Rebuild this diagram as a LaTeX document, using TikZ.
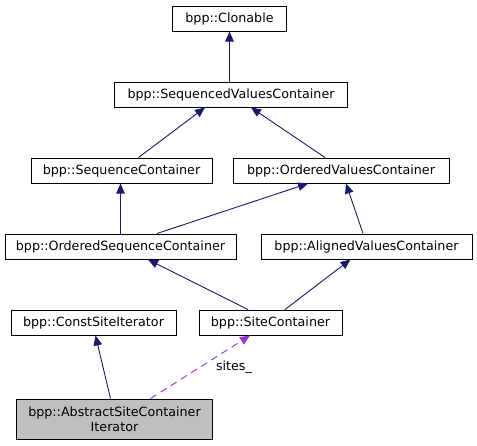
\documentclass[tikz,border=0pt]{standalone}
\usepackage{fontspec}
\setmainfont{DejaVu Sans}
\usetikzlibrary{arrows.meta}
\definecolor{EdgeBlue}{RGB}{25, 25, 112}
\definecolor{RefPurple}{RGB}{154, 50, 205}
\definecolor{BoxGray}{RGB}{191, 191, 191}

\begin{document}
\begin{tikzpicture}[
                x=1pt, y=-1pt,
                cls/.style={draw, line width=1pt, fill=white, inner sep=0pt, minimum height=25pt, font=\fontsize{12.7}{15}\selectfont, align=center},
                inherit/.style={-{Triangle[length=10pt, width=8.5pt]}, line width=0.9pt, EdgeBlue},
                uses/.style={-{Triangle[length=10pt, width=8.5pt]}, line width=0.9pt, dash pattern=on 7pt off 5pt, RefPurple}
            ]
                \useasboundingbox (0, 0) rectangle (477, 445);

                % Classes
                \node[cls, minimum width=114pt] (clonable) at (229.5, 18.5) {bpp::Clonable};
                \node[cls, minimum width=233pt] (seqvals) at (231, 94.5) {bpp::SequencedValuesContainer};
                \node[cls, minimum width=181pt] (seqcont) at (121.5, 170.5) {bpp::SequenceContainer};
                \node[cls, minimum width=216pt] (ordvals) at (341, 170.5) {bpp::OrderedValuesContainer};
                \node[cls, minimum width=231pt] (ordseq) at (120.5, 246.5) {bpp::OrderedSequenceContainer};
                \node[cls, minimum width=211pt] (alivals) at (366.5, 246.5) {bpp::AlignedValuesContainer};
                \node[cls, minimum width=165pt] (constiter) at (93.5, 322.5) {bpp::ConstSiteIterator};
                \node[cls, minimum width=143pt] (sitecont) at (270.5, 322.5) {bpp::SiteContainer};
                \node[cls, fill=BoxGray, minimum width=196pt, minimum height=40pt] (absiter) at (114.5, 419) {bpp::AbstractSiteContainer\\Iterator};

                % Inheritance
                \draw[inherit] (clonable.south |- seqvals.north) -- (clonable.south);
                \draw[inherit] ([xshift=17pt]seqcont.north) -- ([xshift=-26pt]seqvals.south);
                \draw[inherit] ([xshift=-16pt]ordvals.north) -- ([xshift=20pt]seqvals.south);
                \draw[inherit] (ordseq.north) -- (ordseq.north |- seqcont.south);
                \draw[inherit] ([xshift=36.5pt]ordseq.north) -- ([xshift=-33pt]ordvals.south);
                \draw[inherit] ([xshift=-3.5pt]alivals.north) -- ([xshift=5pt]ordvals.south);
                \draw[inherit] ([xshift=-22.5pt]sitecont.north) -- ([xshift=27.5pt]ordseq.south);
                \draw[inherit] ([xshift=14.5pt]sitecont.north) -- ([xshift=-16pt]alivals.south);
                \draw[inherit] ([xshift=-4pt]absiter.north) -- ([xshift=2pt]constiter.south);

                % Member
                \draw[uses] ([xshift=36pt]absiter.north) -- node[pos=0.5, right=12pt, font=\fontsize{12.7}{15}\selectfont, text=black] {sites\_} ([xshift=-20.5pt]sitecont.south);
            \end{tikzpicture}
\end{document}
